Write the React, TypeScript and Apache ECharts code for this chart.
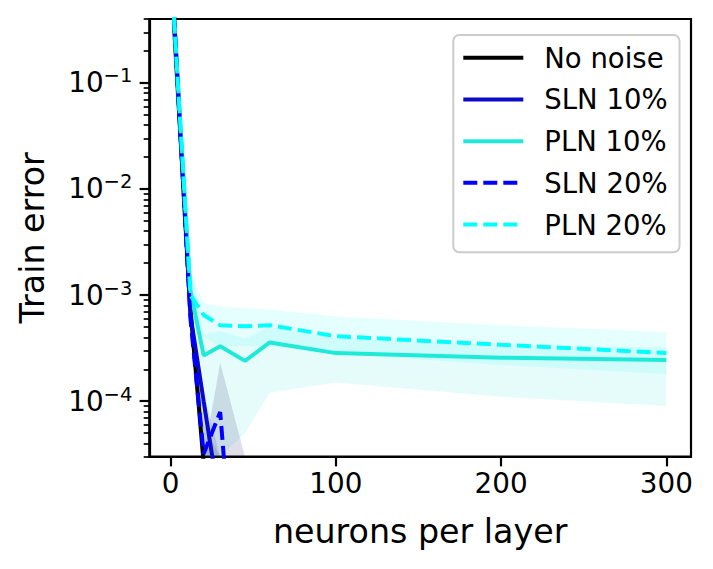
import React, { useEffect, useRef } from "react";
import * as echarts from "echarts";

const FONT = '"DejaVu Sans", "Liberation Sans", sans-serif';

// neurons per layer (x values)
const xValues = [2, 12, 20, 30, 45, 60, 100, 200, 300];

// mean train error per series (null = no more points in range)
const noNoise = [0.36, 7.4e-4, 2.6e-5, null, null, null, null, null, null];
const sln10 = [0.45, 6.5e-4, 1.0e-4, 1.0e-5, null, null, null, null, null];
const pln10 = [0.42, 1.1e-3, 2.7e-4, 3.3e-4, 2.4e-4, 3.58e-4, 2.84e-4, 2.57e-4, 2.45e-4];
const sln20 = [0.45, 6.0e-4, 3.2e-5, 7.9e-5, 1e-7, null, null, null, null];
const pln20 = [0.42, 1.0e-3, 6.5e-4, 5.2e-4, 5.1e-4, 5.2e-4, 4.1e-4, 3.4e-4, 2.85e-4];

// shaded spread (upper / lower) per series
const noNoiseUpper = [0.45, 9e-4, 6e-5, 1e-6, 1e-6, 1e-6, 1e-6, 1e-6, 1e-6];
const noNoiseLower = [0.3, 5e-4, 1e-7, 1e-7, 1e-7, 1e-7, 1e-7, 1e-7, 1e-7];
const sln10Upper = [0.5, 8e-4, 1.2e-4, 1e-6, 1e-6, 1e-6, 1e-6, 1e-6, 1e-6];
const sln10Lower = [0.35, 4e-4, 1e-7, 1e-7, 1e-7, 1e-7, 1e-7, 1e-7, 1e-7];
const pln10Upper = [0.5, 2e-3, 4.2e-4, 4.6e-4, 3.9e-4, 5.0e-4, 3.9e-4, 3.4e-4, 3.2e-4];
const pln10Lower = [0.3, 4e-4, 1e-5, 1e-5, 5e-5, 1.2e-4, 1.5e-4, 1.1e-4, 9e-5];
const sln20Upper = [0.5, 8e-4, 1e-5, 2.3e-4, 1e-8, 1e-8, 1e-8, 1e-8, 1e-8];
const sln20Lower = [0.35, 4e-4, 1e-8, 1e-8, 1e-8, 1e-8, 1e-8, 1e-8, 1e-8];
const pln20Upper = [0.5, 1.6e-3, 8.5e-4, 7.8e-4, 7.5e-4, 7.3e-4, 6.3e-4, 5.2e-4, 4.5e-4];
const pln20Lower = [0.3, 5e-4, 4e-4, 3.3e-4, 3.3e-4, 3.3e-4, 2.8e-4, 2.2e-4, 1.8e-4];

// axis ticks
const xTicks = [0, 100, 200, 300];
const yMajorTicks = [1e-4, 1e-3, 1e-2, 1e-1];
const yMinorTicks: number[] = [];
for (let d = -5; d <= -1; d++) {
  for (let k = 2; k <= 9; k++) {
    const v = Number((k * Math.pow(10, d)).toPrecision(3));
    if (v >= 3e-5 && v <= 0.4) yMinorTicks.push(v);
  }
}

const Y_MIN = 3e-5;
const Y_MAX = 0.4;
const X_MIN = -12.9;
const X_MAX = 314.9;

const names = ["No noise", "SLN 10%", "PLN 10%", "SLN 20%", "PLN 20%"];
const colors = ["#000000", "#0a0ac8", "#1fead8", "#0000ff", "#00ffff"];

function pairs(vals: (number | null)[]) {
  const out: number[][] = [];
  vals.forEach((v, i) => {
    if (v !== null) out.push([xValues[i], v]);
  });
  return out;
}

function clampY(v: number) {
  return Math.min(Math.max(v, Y_MIN), Y_MAX);
}

function band(name: string, upper: number[], lower: number[], fill: string, z: number) {
  return {
    type: "custom",
    name,
    silent: true,
    clip: true,
    z,
    data: [[xValues[0], upper[0]]],
    renderItem: (_params: any, api: any) => {
      const pts: number[][] = [];
      for (let i = 0; i < xValues.length; i++) pts.push(api.coord([xValues[i], clampY(upper[i])]));
      for (let i = xValues.length - 1; i >= 0; i--) pts.push(api.coord([xValues[i], clampY(lower[i])]));
      return { type: "polygon", shape: { points: pts }, style: { fill, stroke: "none" }, silent: true };
    },
  };
}

function line(name: string, vals: (number | null)[], color: string, dashed: boolean, z: number) {
  return {
    type: "line",
    name,
    data: pairs(vals),
    symbol: "none",
    showSymbol: false,
    clip: true,
    z,
    lineStyle: { color, width: 4, type: dashed ? [14, 6] : "solid" },
    itemStyle: { color },
  };
}

export default function App() {
  const ref = useRef<HTMLDivElement>(null);
  useEffect(() => {
    const chart = echarts.init(ref.current!, null, { renderer: "svg" });
    const option: any = {
      animation: false,
      backgroundColor: "#ffffff",
      textStyle: { fontFamily: FONT },
      grid: {
        left: 149.3,
        right: 22,
        top: 19,
        bottom: 112.3,
        show: true,
        borderColor: "#000",
        borderWidth: 2.2,
        backgroundColor: "transparent",
        outerBoundsMode: "none",
      },
      legend: {
        orient: "vertical",
        left: 453.3,
        top: 35,
        padding: [7, 12, 12, 8],
        itemWidth: 60,
        itemHeight: 30,
        itemGap: 10.2,
        backgroundColor: "rgba(255,255,255,0.8)",
        borderColor: "#cccccc",
        borderWidth: 2,
        borderRadius: 6,
        itemStyle: { opacity: 0 },
        lineStyle: { width: 4 },
        textStyle: { fontFamily: FONT, fontSize: 27.5, color: "#000", padding: [0, 0, 0, 16], lineHeight: 31.5 },
        data: names,
      },
      xAxis: {
        type: "value",
        min: X_MIN,
        max: X_MAX,
        axisLine: { show: true, onZero: false, lineStyle: { color: "#000", width: 2.2 } },
        axisTick: { show: true, length: 9.7, lineStyle: { color: "#000", width: 2.2 }, customValues: xTicks },
        axisLabel: {
          customValues: xTicks,
          fontSize: 27.8,
          fontFamily: FONT,
          color: "#000",
          margin: 13,
        },
        splitLine: { show: false },
        name: "neurons per layer",
        nameLocation: "middle",
        nameGap: 58,
        nameTextStyle: { fontSize: 33.3, fontFamily: FONT, color: "#000" },
      },
      yAxis: [
        {
          type: "log",
          logBase: 10,
          min: Y_MIN,
          max: Y_MAX,
          axisLine: { show: true, onZero: false, lineStyle: { color: "#000", width: 2.2 } },
          axisTick: { show: true, length: 9.7, lineStyle: { color: "#000", width: 2.2 }, customValues: yMajorTicks },
          axisLabel: {
            customValues: yMajorTicks,
            margin: 17,
            formatter: (v: number) => `{b|10}{s|−${Math.round(-Math.log10(v))}}`,
            rich: {
              b: { fontSize: 27.8, fontFamily: FONT, color: "#000", lineHeight: 34 },
              s: { fontSize: 19.5, fontFamily: FONT, color: "#000", lineHeight: 20, verticalAlign: "top" },
            },
          },
          minorTick: { show: false },
          splitLine: { show: false },
          name: "Train error",
          nameLocation: "middle",
          nameGap: 100,
          nameTextStyle: { fontSize: 33.3, fontFamily: FONT, color: "#000" },
        },
        {
          type: "log",
          logBase: 10,
          min: Y_MIN,
          max: Y_MAX,
          position: "left",
          axisLine: { show: false, onZero: false },
          axisTick: { show: true, length: 5.6, lineStyle: { color: "#000", width: 1.7 }, customValues: yMinorTicks },
          axisLabel: { show: false },
          splitLine: { show: false },
        },
      ],
      series: [
        band("band No noise", noNoiseUpper, noNoiseLower, "rgba(0,0,0,0.1)", 1),
        line(names[0], noNoise, colors[0], false, 5),
        band("band SLN 10%", sln10Upper, sln10Lower, "rgba(10,10,160,0.12)", 1),
        line(names[1], sln10, colors[1], false, 6),
        band("band PLN 10%", pln10Upper, pln10Lower, "rgba(31,232,216,0.11)", 1),
        line(names[2], pln10, colors[2], false, 7),
        band("band SLN 20%", sln20Upper, sln20Lower, "rgba(40,40,110,0.15)", 1),
        line(names[3], sln20, colors[3], true, 8),
        band("band PLN 20%", pln20Upper, pln20Lower, "rgba(0,255,255,0.1)", 1),
        line(names[4], pln20, colors[4], true, 9),
      ],
    };
    chart.setOption(option);
    return () => chart.dispose();
  }, []);
  return (
    <div
      ref={ref}
      style={{ position: "fixed", left: 0, top: 0, width: 713, height: 569, background: "#fff" }}
    />
  );
}
